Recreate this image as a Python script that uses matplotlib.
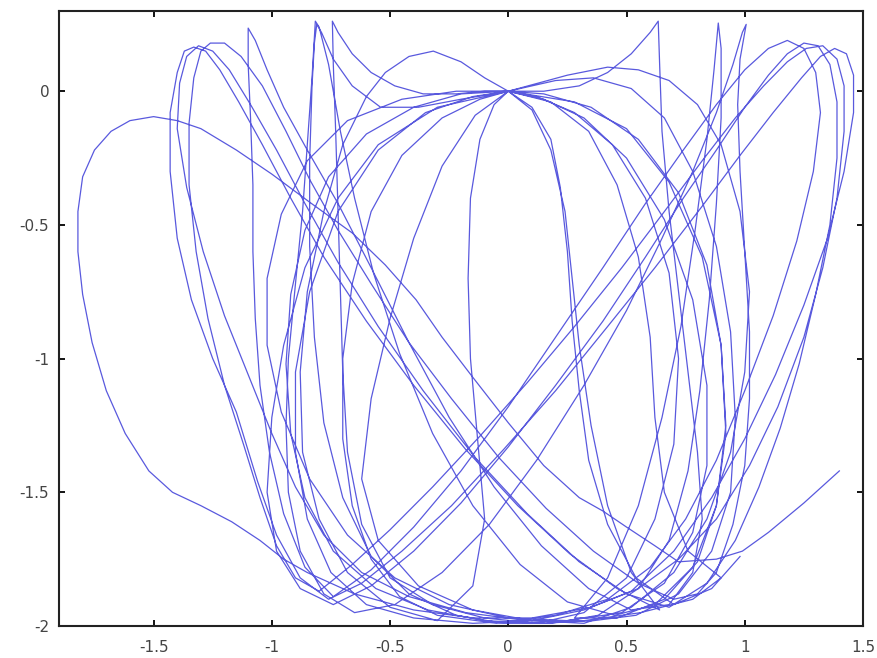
import numpy as np
import matplotlib
matplotlib.use("Agg")
import matplotlib.pyplot as plt

plt.rcParams['axes.unicode_minus'] = False

# tip of the pendulum, one swing per list
swing_start = [(1.40, -1.42), (1.25, -1.54), (1.10, -1.65), (0.99, -1.72), (0.88, -1.75),
               (0.72, -1.76), (0.62, -1.70), (0.50, -1.63), (0.40, -1.57), (0.30, -1.52),
               (0.15, -1.40), (0.00, -1.24), (-0.15, -1.07), (-0.28, -0.92), (-0.39, -0.78),
               (-0.52, -0.65), (-0.66, -0.53), (-0.84, -0.415), (-1.00, -0.31), (-1.15, -0.22),
               (-1.30, -0.14), (-1.40, -0.11), (-1.50, -0.095), (-1.60, -0.11), (-1.68, -0.15),
               (-1.75, -0.22), (-1.80, -0.32), (-1.82, -0.45), (-1.82, -0.60), (-1.80, -0.76),
               (-1.76, -0.94), (-1.70, -1.12), (-1.62, -1.28), (-1.52, -1.42), (-1.42, -1.50),
               (-1.30, -1.55), (-1.17, -1.61), (-1.05, -1.68), (-0.95, -1.75), (-0.85, -1.80)]
swing_02 = [(-0.65, -1.88), (-0.40, -1.94), (-0.15, -1.97), (0.10, -1.97), (0.35, -1.93),
            (0.55, -1.86), (0.72, -1.75), (0.88, -1.60), (1.02, -1.40), (1.14, -1.18),
            (1.25, -0.92), (1.33, -0.66), (1.39, -0.40), (1.42, -0.15), (1.42, 0.02),
            (1.39, 0.12), (1.33, 0.17), (1.26, 0.16), (1.18, 0.11), (1.08, 0.02),
            (0.96, -0.10), (0.82, -0.26), (0.66, -0.45), (0.48, -0.66), (0.28, -0.88),
            (0.08, -1.09), (-0.12, -1.29), (-0.32, -1.48), (-0.50, -1.64), (-0.66, -1.77),
            (-0.80, -1.87)]
swing_03 = [(-0.90, -1.82), (-0.98, -1.70), (-1.05, -1.52), (-1.12, -1.32), (-1.20, -1.10),
            (-1.27, -0.85), (-1.32, -0.60), (-1.35, -0.35), (-1.35, -0.12), (-1.33, 0.05),
            (-1.30, 0.15), (-1.26, 0.18), (-1.20, 0.18), (-1.13, 0.13), (-1.04, 0.02),
            (-0.94, -0.15), (-0.84, -0.33), (-0.72, -0.52), (-0.58, -0.72), (-0.42, -0.94),
            (-0.24, -1.15), (-0.04, -1.37), (0.16, -1.56), (0.36, -1.72), (0.55, -1.84),
            (0.70, -1.90), (0.80, -1.88)]
swing_04 = [(0.88, -1.80), (0.95, -1.62), (1.00, -1.40), (1.02, -1.15), (1.02, -0.90),
            (1.00, -0.60), (0.98, -0.30), (0.97, -0.05), (0.98, 0.12), (1.00, 0.22),
            (1.006, 0.25), (0.99, 0.22), (0.95, 0.10), (0.88, -0.08), (0.78, -0.30),
            (0.65, -0.55), (0.50, -0.82), (0.32, -1.10), (0.12, -1.38), (-0.08, -1.62),
            (-0.28, -1.80), (-0.48, -1.92), (-0.65, -1.95)]
swing_05 = [(-0.78, -1.88), (-0.88, -1.72), (-0.93, -1.50), (-0.94, -1.25), (-0.93, -1.00),
            (-0.90, -0.72), (-0.87, -0.45), (-0.85, -0.20), (-0.83, 0.05), (-0.82, 0.20),
            (-0.816, 0.262), (-0.80, 0.24), (-0.76, 0.10), (-0.71, -0.15), (-0.65, -0.40),
            (-0.57, -0.68), (-0.46, -0.98), (-0.32, -1.28), (-0.15, -1.55), (0.05, -1.77),
            (0.25, -1.91), (0.45, -1.96), (0.62, -1.92)]
swing_06 = [(0.78, -1.78), (0.88, -1.55), (0.92, -1.25), (0.90, -0.95), (0.84, -0.65),
            (0.72, -0.38), (0.55, -0.18), (0.35, -0.06), (0.15, -0.01), (0.00, 0.00),
            (-0.15, -0.02), (-0.35, -0.08), (-0.55, -0.22), (-0.72, -0.45), (-0.84, -0.75),
            (-0.90, -1.05), (-0.90, -1.35), (-0.85, -1.60), (-0.75, -1.80), (-0.60, -1.92),
            (-0.40, -1.97)]
swing_07 = [(-0.15, -1.99), (0.10, -1.98), (0.32, -1.94), (0.52, -1.87), (0.70, -1.72),
            (0.86, -1.52), (1.00, -1.30), (1.13, -1.06), (1.25, -0.80), (1.35, -0.55),
            (1.42, -0.30), (1.46, -0.08), (1.46, 0.06), (1.43, 0.14), (1.38, 0.16),
            (1.32, 0.13), (1.24, 0.05), (1.12, -0.08), (0.98, -0.24), (0.82, -0.43),
            (0.62, -0.66), (0.42, -0.88), (0.20, -1.12), (-0.02, -1.34), (-0.24, -1.55),
            (-0.45, -1.72), (-0.62, -1.84), (-0.76, -1.90)]
swing_08 = [(-0.88, -1.82), (-0.98, -1.66), (-1.06, -1.46), (-1.15, -1.20), (-1.25, -1.00),
            (-1.34, -0.78), (-1.40, -0.55), (-1.43, -0.30), (-1.43, -0.08), (-1.40, 0.07),
            (-1.37, 0.15), (-1.33, 0.165), (-1.28, 0.15), (-1.22, 0.08), (-1.14, -0.04),
            (-1.04, -0.20), (-0.92, -0.40), (-0.78, -0.62), (-0.60, -0.86), (-0.40, -1.10),
            (-0.18, -1.34), (0.04, -1.55), (0.26, -1.73), (0.46, -1.86), (0.64, -1.94)]
swing_09 = [(0.52, -1.80), (0.42, -1.55), (0.35, -1.25), (0.30, -0.95), (0.27, -0.70),
            (0.24, -0.45), (0.18, -0.22), (0.10, -0.07), (0.00, 0.00), (-0.12, -0.03),
            (-0.28, -0.10), (-0.45, -0.24), (-0.58, -0.45), (-0.66, -0.72), (-0.70, -1.00),
            (-0.70, -1.30), (-0.66, -1.55), (-0.58, -1.75), (-0.46, -1.89), (-0.30, -1.96)]
swing_10 = [(-0.05, -1.99), (0.20, -1.96), (0.42, -1.90), (0.60, -1.78), (0.75, -1.60),
            (0.88, -1.38), (1.00, -1.12), (1.12, -0.84), (1.22, -0.56), (1.29, -0.30),
            (1.32, -0.08), (1.30, 0.07), (1.25, 0.16), (1.18, 0.19), (1.10, 0.16),
            (1.00, 0.08), (0.88, -0.05), (0.74, -0.22), (0.58, -0.42), (0.40, -0.66),
            (0.20, -0.92), (0.00, -1.18), (-0.20, -1.42), (-0.40, -1.63), (-0.58, -1.79),
            (-0.74, -1.89)]
swing_11 = [(-0.86, -1.78), (-0.95, -1.58), (-1.01, -1.35), (-1.05, -1.10), (-1.07, -0.85),
            (-1.08, -0.60), (-1.08, -0.35), (-1.09, -0.10), (-1.10, 0.10), (-1.10, 0.236),
            (-1.07, 0.19), (-1.02, 0.08), (-0.95, -0.06), (-0.85, -0.22), (-0.72, -0.42),
            (-0.58, -0.66), (-0.42, -0.94), (-0.25, -1.22), (-0.06, -1.48), (0.14, -1.70),
            (0.34, -1.86), (0.52, -1.94), (0.68, -1.92)]
swing_12 = [(0.78, -1.80), (0.82, -1.60), (0.80, -1.35), (0.76, -1.05), (0.72, -0.75),
            (0.68, -0.45), (0.65, -0.15), (0.64, 0.10), (0.634, 0.262), (0.60, 0.22),
            (0.52, 0.14), (0.42, 0.07), (0.30, 0.02), (0.15, 0.00), (0.00, 0.00),
            (-0.10, 0.05), (-0.20, 0.11), (-0.317, 0.15), (-0.42, 0.13), (-0.52, 0.07),
            (-0.60, -0.02), (-0.70, -0.20), (-0.78, -0.45), (-0.85, -0.75), (-0.88, -1.05),
            (-0.87, -1.35), (-0.80, -1.60), (-0.68, -1.80), (-0.50, -1.93), (-0.30, -1.98)]
swing_13 = [(-0.15, -1.85), (-0.10, -1.60), (-0.13, -1.30), (-0.16, -1.00), (-0.17, -0.70),
            (-0.16, -0.40), (-0.12, -0.18), (-0.06, -0.05), (0.00, 0.00), (0.12, -0.02),
            (0.28, -0.08), (0.44, -0.20), (0.58, -0.40), (0.68, -0.68), (0.72, -1.00),
            (0.70, -1.32), (0.62, -1.60), (0.50, -1.82), (0.32, -1.95), (0.12, -1.99)]
swing_14 = [(-0.10, -1.97), (-0.32, -1.92), (-0.50, -1.82), (-0.62, -1.62), (-0.68, -1.35),
            (-0.70, -1.05), (-0.71, -0.75), (-0.72, -0.45), (-0.73, -0.15), (-0.74, 0.10),
            (-0.744, 0.262), (-0.72, 0.22), (-0.66, 0.14), (-0.58, 0.07), (-0.48, 0.02),
            (-0.36, -0.01), (-0.22, -0.01), (-0.10, 0.00), (0.00, 0.00), (0.15, -0.03),
            (0.32, -0.10), (0.50, -0.25), (0.66, -0.48), (0.78, -0.78), (0.84, -1.10),
            (0.84, -1.40), (0.78, -1.65), (0.66, -1.84), (0.48, -1.95)]
swing_15 = [(0.25, -1.98), (0.00, -1.97), (-0.25, -1.92), (-0.48, -1.82), (-0.68, -1.66),
            (-0.84, -1.45), (-0.96, -1.20), (-1.02, -0.95), (-1.02, -0.70), (-0.96, -0.46),
            (-0.85, -0.26), (-0.68, -0.11), (-0.45, -0.03), (-0.22, 0.00), (0.00, 0.00),
            (0.25, 0.06), (0.42, 0.09), (0.55, 0.08), (0.68, 0.04), (0.80, -0.05),
            (0.90, -0.20), (0.98, -0.45), (1.02, -0.75), (1.00, -1.05), (0.94, -1.35),
            (0.84, -1.60), (0.70, -1.80), (0.52, -1.93), (0.32, -1.99)]
swing_16 = [(0.10, -1.98), (-0.15, -1.94), (-0.38, -1.85), (-0.55, -1.68), (-0.62, -1.45),
            (-0.58, -1.15), (-0.50, -0.85), (-0.40, -0.55), (-0.28, -0.28), (-0.14, -0.09),
            (0.00, 0.00), (0.18, -0.04), (0.34, -0.15), (0.46, -0.35), (0.55, -0.62),
            (0.60, -0.92), (0.62, -1.22), (0.66, -1.50), (0.76, -1.72), (0.90, -1.82)]
swing_17 = [(0.78, -1.90), (0.56, -1.95), (0.32, -1.98), (0.08, -1.98), (-0.18, -1.95),
            (-0.42, -1.89), (-0.62, -1.80), (-0.78, -1.66), (-0.90, -1.48), (-1.00, -1.28),
            (-1.10, -1.06), (-1.20, -0.84), (-1.29, -0.60), (-1.36, -0.36), (-1.40, -0.14),
            (-1.39, 0.03), (-1.36, 0.13), (-1.31, 0.17), (-1.25, 0.15), (-1.18, 0.08),
            (-1.09, -0.05), (-0.98, -0.22), (-0.86, -0.42), (-0.72, -0.64), (-0.55, -0.88),
            (-0.36, -1.12), (-0.14, -1.37), (0.08, -1.58), (0.30, -1.76), (0.50, -1.88),
            (0.68, -1.93)]
swing_18 = [(0.84, -1.84), (0.96, -1.68), (1.06, -1.48), (1.15, -1.26), (1.23, -1.02),
            (1.30, -0.76), (1.36, -0.50), (1.39, -0.25), (1.39, -0.04), (1.36, 0.10),
            (1.31, 0.17), (1.25, 0.18), (1.18, 0.14), (1.10, 0.06), (1.00, -0.06),
            (0.88, -0.22), (0.74, -0.40), (0.58, -0.62), (0.40, -0.86), (0.20, -1.10),
            (0.00, -1.33), (-0.20, -1.54), (-0.40, -1.72), (-0.58, -1.85), (-0.74, -1.92)]
swing_19 = [(-0.88, -1.86), (-0.98, -1.72), (-1.02, -1.50), (-1.00, -1.22), (-0.95, -0.95),
            (-0.86, -0.66), (-0.72, -0.40), (-0.55, -0.20), (-0.30, -0.06), (0.00, 0.00),
            (0.28, -0.04), (0.50, -0.14), (0.68, -0.34), (0.82, -0.62), (0.90, -0.95),
            (0.92, -1.28), (0.88, -1.55), (0.80, -1.76), (0.66, -1.90), (0.46, -1.97)]
swing_20 = [(0.28, -1.97), (0.42, -1.82), (0.55, -1.55), (0.65, -1.22), (0.73, -0.88),
            (0.79, -0.52), (0.84, -0.18), (0.87, 0.08), (0.888, 0.255), (0.90, 0.16),
            (0.90, -0.10), (0.88, -0.42), (0.85, -0.78), (0.81, -1.12), (0.76, -1.42),
            (0.68, -1.68), (0.55, -1.86), (0.38, -1.96), (0.18, -1.99)]
swing_21 = [(-0.02, -1.99), (-0.22, -1.96), (-0.42, -1.88), (-0.58, -1.74), (-0.70, -1.52),
            (-0.78, -1.24), (-0.82, -0.92), (-0.84, -0.58), (-0.84, -0.26), (-0.83, 0.02),
            (-0.82, 0.18), (-0.81, 0.25), (-0.79, 0.22), (-0.74, 0.12), (-0.66, 0.02),
            (-0.54, -0.06), (-0.38, -0.06), (-0.20, -0.03), (0.00, 0.00), (0.20, 0.04),
            (0.36, 0.05), (0.52, 0.01), (0.66, -0.10), (0.78, -0.30), (0.88, -0.58),
            (0.94, -0.90), (0.96, -1.22), (0.94, -1.50), (0.86, -1.72), (0.72, -1.88),
            (0.54, -1.96)]
swing_22 = [(0.36, -1.98), (0.14, -1.99), (-0.10, -1.98), (-0.34, -1.94), (-0.56, -1.86),
            (-0.74, -1.72), (-0.86, -1.52), (-0.92, -1.28), (-0.94, -1.02), (-0.92, -0.76),
            (-0.86, -0.52), (-0.76, -0.32), (-0.60, -0.16), (-0.40, -0.06), (-0.20, -0.01),
            (0.00, 0.00), (0.10, -0.06), (0.18, -0.18), (0.22, -0.36), (0.25, -0.60),
            (0.27, -0.86), (0.30, -1.12), (0.34, -1.38), (0.42, -1.62), (0.54, -1.82),
            (0.70, -1.92), (0.86, -1.86), (0.98, -1.74)]

swings = [swing_start, swing_02, swing_03, swing_04, swing_05, swing_06, swing_07, swing_08,
          swing_09, swing_10, swing_11, swing_12, swing_13, swing_14, swing_15, swing_16,
          swing_17, swing_18, swing_19, swing_20, swing_21, swing_22]

xticks = [-1.5, -1, -0.5, 0, 0.5, 1, 1.5]
xticklabels = ["-1.5", "-1", "-0.5", "0", "0.5", "1", "1.5"]
yticks = [0, -0.5, -1, -1.5, -2]
yticklabels = ["0", "-0.5", "-1", "-1.5", "-2"]

path = np.array([p for s in swings for p in s])

fig = plt.figure(figsize=(8.78, 6.58), dpi=100)
ax = fig.add_axes([59 / 878, 1 - 626 / 658, 804 / 878, 615 / 658])
ax.plot(path[:, 0], path[:, 1], color='#3c3cd8', lw=0.9, alpha=0.85)

ax.set_xlim(-1.9, 1.5)
ax.set_ylim(-2, 0.3)
ax.set_xticks(xticks)
ax.set_xticklabels(xticklabels)
ax.set_yticks(yticks)
ax.set_yticklabels(yticklabels)
ax.tick_params(direction='in', top=True, right=True, length=4, width=1.3,
               labelsize=11, labelcolor='#444444')
ax.tick_params(axis='x', pad=10)
ax.tick_params(axis='y', pad=7)
for s in ax.spines.values():
    s.set_linewidth(1.5)
    s.set_color('#222222')

fig.savefig("out.png", dpi=100)
